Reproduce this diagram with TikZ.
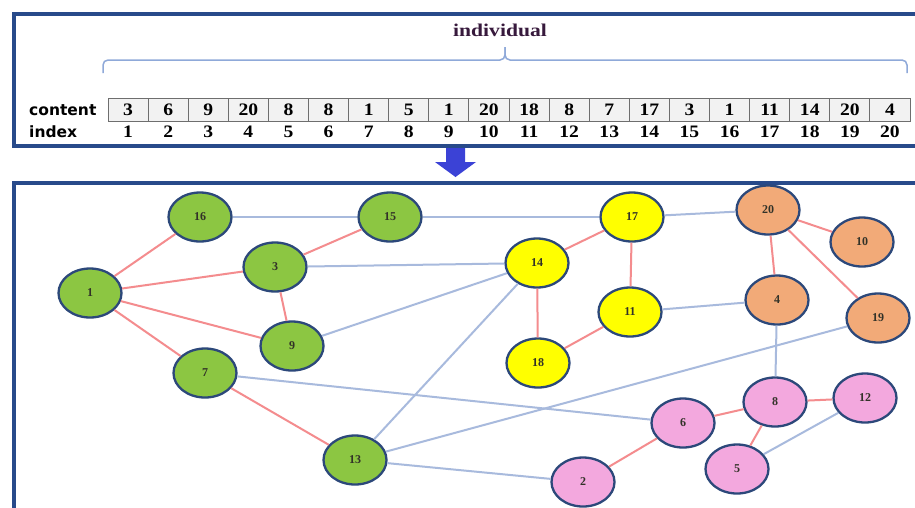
\documentclass[tikz,border=0pt]{standalone}
\usepackage{graphicx}
\usepackage{fontspec}
\setmainfont{Liberation Serif}
\newfontfamily\labelsans{DejaVu Sans}
\usetikzlibrary{shapes.geometric}
\definecolor{frameblue}{RGB}{40,74,138}
\definecolor{bracecol}{RGB}{143,169,217}
\definecolor{arrowblue}{RGB}{59,66,214}
\definecolor{redge}{RGB}{244,140,142}
\definecolor{bedge}{RGB}{168,186,221}
\definecolor{ngreen}{RGB}{140,198,66}
\definecolor{nyellow}{RGB}{255,255,0}
\definecolor{norange}{RGB}{242,170,120}
\definecolor{npink}{RGB}{243,168,222}
\definecolor{nborder}{RGB}{44,72,122}
\definecolor{ntext}{RGB}{50,50,40}
\definecolor{celldraw}{RGB}{110,110,110}
\definecolor{cellfill}{RGB}{242,242,242}
\definecolor{indcol}{RGB}{55,25,60}
\begin{document}
\begin{tikzpicture}[x=1pt,y=-1pt,
  frame/.style={draw=frameblue,line width=3.5pt},
  gnode/.style={ellipse,draw=nborder,line width=2.3pt,minimum width=63pt,minimum height=49pt,inner sep=0pt,
     text=ntext,font=\fontsize{12}{12}\selectfont\bfseries},
  green/.style={gnode,fill=ngreen},
  yel/.style={gnode,fill=nyellow},
  ora/.style={gnode,fill=norange},
  pnk/.style={gnode,fill=npink},
  re/.style={draw=redge,line width=2pt},
  be/.style={draw=bedge,line width=2pt},
  cell/.style={rectangle,draw=celldraw,fill=cellfill,line width=1pt,minimum width=40.1pt,minimum height=23pt,inner sep=0pt,
     font=\fontsize{17.5}{17.5}\selectfont\bfseries},
  idx/.style={inner sep=0pt,font=\fontsize{17.5}{17.5}\selectfont\bfseries},
  rowlab/.style={anchor=west,inner sep=0pt,font=\labelsans\fontsize{15.5}{16}\selectfont\bfseries}
]
\useasboundingbox (0,0) rectangle (915,507);
\clip (0,0) rectangle (915,507);
\fill[white] (0,0) rectangle (915,507);

% frames
\draw[frame] (935,14) -- (14,14) -- (14,146) -- (935,146);
\draw[frame] (935,183) -- (14,183) -- (14,530);

% title and brace
\node[inner sep=0pt,text=indcol,font=\fontsize{18}{18}\selectfont\bfseries] (ind) at (500,30) {\scalebox{1.2}[1]{individual}};
\draw[draw=bracecol,line width=1.5pt,rounded corners=5pt]
  (103,73) -- (103,60) -- (505,60) -- (505,47);
\draw[draw=bracecol,line width=1.5pt,rounded corners=5pt]
  (505,47) -- (505,60) -- (907,60) -- (907,73);

% table
\node[rowlab] (contentlab) at (29,110) {content};
\node[rowlab] (indexlab) at (29,132) {index};
\foreach \v [count=\i] in {3,6,9,20,8,8,1,5,1,20,18,8,7,17,3,1,11,14,20,4}{
  \node[cell] (c\i) at ({108+40.1*(\i-0.5)},110) {\scalebox{1.12}[1]{\v}};
  \node[idx] (i\i) at ({108+40.1*(\i-0.5)},132) {\scalebox{1.12}[1]{\i}};
}

% arrow
\fill[arrowblue] (446,148) -- (465,148) -- (465,162) -- (476,162) -- (455.5,177) -- (435,162) -- (446,162) -- cycle;

% graph nodes
\node[green] (n16) at (200,217) {16};
\node[green] (n15) at (390,217) {15};
\node[green] (n3)  at (275,267) {3};
\node[green] (n1)  at (90,293)  {1};
\node[green] (n9)  at (292,346) {9};
\node[green] (n7)  at (205,373) {7};
\node[green] (n13) at (355,460) {13};
\node[yel] (n17) at (632,217) {17};
\node[yel] (n14) at (537,263) {14};
\node[yel] (n11) at (630,312) {11};
\node[yel] (n18) at (538,363) {18};
\node[ora] (n20) at (768,210) {20};
\node[ora] (n10) at (862,242) {10};
\node[ora] (n4)  at (777,300) {4};
\node[ora] (n19) at (878,318) {19};
\node[pnk] (n8)  at (775,402) {8};
\node[pnk] (n12) at (865,398) {12};
\node[pnk] (n6)  at (683,423) {6};
\node[pnk] (n5)  at (737,469) {5};
\node[pnk] (n2)  at (583,482) {2};

% edges
\foreach \a/\b in {n1/n16,n1/n3,n1/n9,n1/n7,n3/n15,n3/n9,n7/n13,n14/n17,n14/n18,n17/n11,n11/n18,n20/n10,n20/n4,n20/n19,n6/n8,n8/n12,n8/n5,n6/n2}
  \draw[re] (\a) -- (\b);
\foreach \a/\b in {n16/n15,n15/n17,n17/n20,n3/n14,n9/n14,n14/n13,n7/n6,n13/n19,n13/n2,n11/n4,n4/n8,n5/n12}
  \draw[be] (\a) -- (\b);
\end{tikzpicture}
\end{document}
